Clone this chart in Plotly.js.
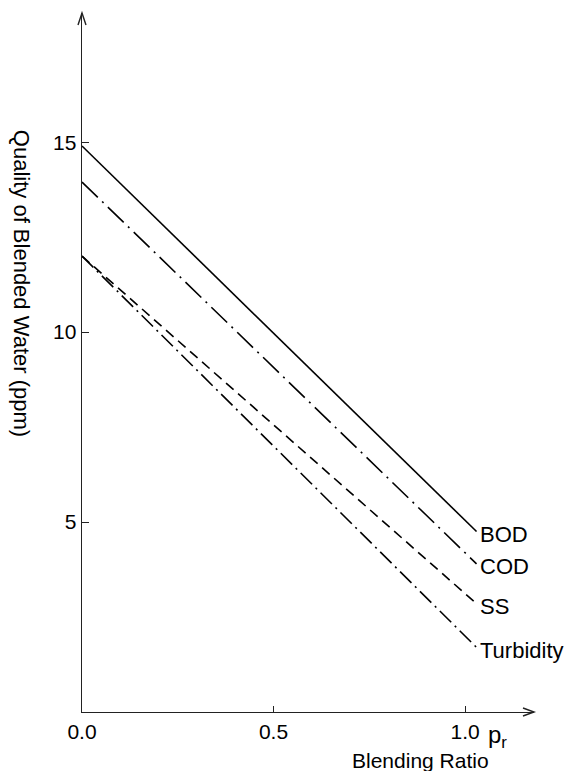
<!DOCTYPE html>
<html>
<head>
<meta charset="utf-8">
<script src="https://cdn.plot.ly/plotly-3.0.1.min.js"></script>
<style>html,body{margin:0;padding:0;background:#fff;}#chart{width:567px;height:771px;}</style>
</head>
<body>
<div id="chart"></div>
<script>
// Blending ratio (x) at the two ends of each straight line
const blendRatio = [0.0, 1.03];
// Quality of blended water (ppm)
const bod = [14.9, 4.75];
const cod = [13.95, 3.9];
const ss = [12.0, 2.85];
const turbidity = [12.0, 1.7];
const seriesNames = ["BOD", "COD", "SS", "Turbidity"];
const xTickVals = [0, 0.5, 1.0];
const xTickText = ["0.0", "0.5", "1.0"];
const yTickVals = [5, 10, 15];
const yTickText = ["5", "10", "15"];

const seriesData = [bod, cod, ss, turbidity];
const dashes = ["solid", "22px,6px,2px,6px", "10px,6px", "16px,5px,2px,5px"];
const FONT = "Liberation Sans, Arial, sans-serif";

const traces = seriesData.map((ys, i) => ({
  x: blendRatio, y: ys, type: "scatter", mode: "lines", name: seriesNames[i],
  line: {color: "#000", width: 1.6, dash: dashes[i]}, hoverinfo: "skip"
}));

const labelAnns = seriesData.map((ys, i) => ({
  x: blendRatio[blendRatio.length - 1], y: ys[ys.length - 1], xref: "x", yref: "y",
  text: seriesNames[i], showarrow: false, xanchor: "left", yanchor: "middle",
  xshift: 1, yshift: -3, font: {family: FONT, size: 22, color: "#000"}
}));

const layout = {
  width: 567, height: 771,
  margin: {l: 82, r: 33, t: 13, b: 59},
  paper_bgcolor: "#fff", plot_bgcolor: "#fff",
  showlegend: false,
  xaxis: {
    range: [0, 1.18], showgrid: false, zeroline: false,
    showline: true, linecolor: "#222", linewidth: 1.4,
    tickmode: "array", tickvals: xTickVals, ticktext: xTickText,
    ticks: "inside", ticklen: 6, tickcolor: "#222",
    tickfont: {family: FONT, size: 21, color: "#000"}
  },
  yaxis: {
    range: [0, 18.4], showgrid: false, zeroline: false,
    showline: true, linecolor: "#222", linewidth: 1.4,
    tickmode: "array", tickvals: yTickVals, ticktext: yTickText,
    ticks: "inside", ticklen: 7, tickcolor: "#222",
    tickfont: {family: FONT, size: 21, color: "#000"}
  },
  shapes: [
    {type: "path", xref: "paper", yref: "paper", xsizemode: "pixel", ysizemode: "pixel",
     xanchor: 0, yanchor: 1, path: "M-4,-12L0,0L4,-12", line: {color: "#222", width: 1.4}},
    {type: "path", xref: "paper", yref: "paper", xsizemode: "pixel", ysizemode: "pixel",
     xanchor: 1, yanchor: 0, path: "M-11,4L0,0L-11,-4", line: {color: "#222", width: 1.4}}
  ],
  annotations: labelAnns.concat([
    {xref: "paper", yref: "paper", x: 0, y: 0.614, xshift: -61, textangle: 90,
     text: "Quality of Blended Water (ppm)", showarrow: false, xanchor: "center", yanchor: "middle",
     font: {family: FONT, size: 22, color: "#000"}},
    {xref: "paper", yref: "paper", x: 0.748, y: 0, yshift: -48,
     text: "Blending Ratio", showarrow: false, xanchor: "center", yanchor: "middle",
     font: {family: FONT, size: 21, color: "#000"}},
    {xref: "paper", yref: "paper", x: 0.893, y: 0, yshift: -24,
     text: "p<sub>r</sub>", showarrow: false, xanchor: "left", yanchor: "middle",
     font: {family: FONT, size: 24, color: "#000"}}
  ])
};

Plotly.newPlot("chart", traces, layout, {displayModeBar: false, staticPlot: true});
</script>
</body>
</html>
